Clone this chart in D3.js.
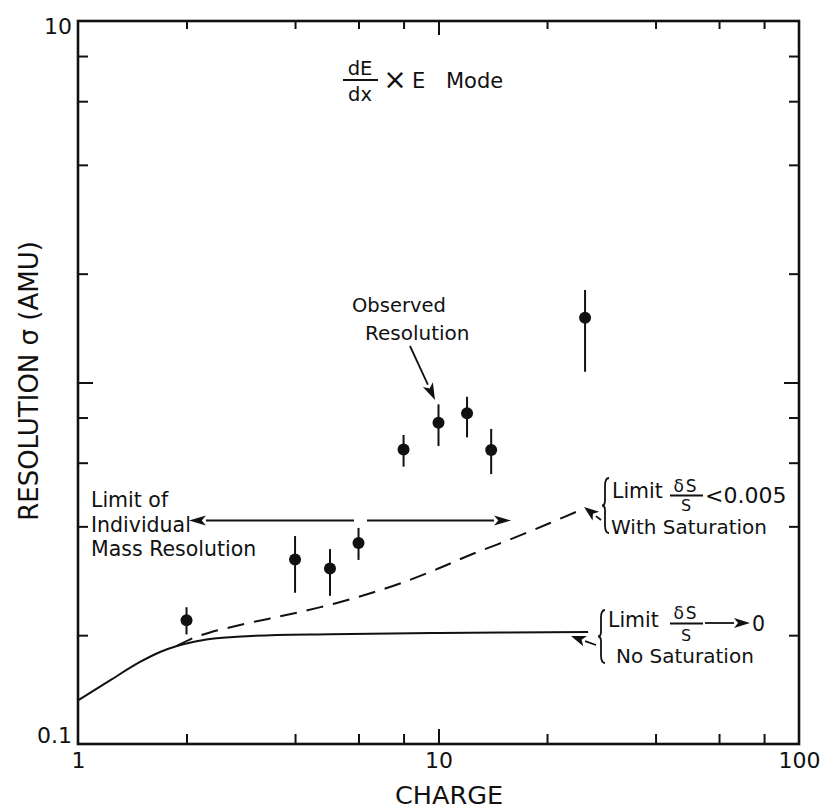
<!DOCTYPE html>
<html>
<head>
<meta charset="utf-8">
<script src="https://cdn.jsdelivr.net/npm/d3@7/dist/d3.min.js"></script>
<style>
  html, body { margin: 0; padding: 0; background: #fff; }
  svg text { font-family: "DejaVu Sans", sans-serif; fill: #111; }
</style>
</head>
<body>
<svg id="chart" width="823" height="810"></svg>
<script>
// Observed resolution per charge (sigma in AMU) with error bar limits
const charges   = [2, 4, 5, 6, 8, 10, 12, 14, 25.5];
const sigma     = [0.220, 0.324, 0.306, 0.360, 0.653, 0.774, 0.822, 0.651, 1.51];
const sigmaLow  = [0.201, 0.262, 0.257, 0.323, 0.585, 0.667, 0.705, 0.558, 1.071];
const sigmaHigh = [0.239, 0.376, 0.346, 0.396, 0.716, 0.870, 0.913, 0.744, 1.803];

// Calculated limit, dS/S -> 0, no saturation
const noSatCharge = [1, 1.227, 1.486, 1.689, 1.881, 2.084, 2.323, 2.76, 3.56, 5, 10, 26];
const noSatSigma  = [0.132, 0.150, 0.1686, 0.1797, 0.1867, 0.1915, 0.1953, 0.198, 0.2003, 0.2012, 0.2028, 0.2041];

// Calculated limit, dS/S < 0.005, with saturation
const satCharge = [1.881, 2.084, 2.323, 2.814, 3.409, 4.129, 5.163, 6.375, 7.87, 9.779, 12.23, 15.79, 20.39, 25.49];
const satSigma  = [0.1867, 0.1964, 0.2035, 0.2134, 0.2225, 0.2319, 0.2447, 0.2600, 0.2786, 0.3029, 0.3333, 0.3679, 0.4087, 0.4495];

// Axis ticks
const xMinorTicks = [2, 4, 6, 8, 20, 40, 60, 80];
const xMajorTicks = [10];
const yMinorTicks = [0.2, 0.4, 0.6, 0.8, 2, 4, 6, 8];
const yMajorTicks = [1];
const xTickLabels = [1, 10, 100];
const yTickLabels = [0.1, 10];

const svg = d3.select("#chart");
const plotL = 78, plotR = 799, plotT = 21, plotB = 744;

const x = d3.scaleLog().domain([1, 100]).range([plotL, plotR]);
const y = d3.scaleLog().domain([0.1, 10]).range([plotB, plotT]);

const ink = "#111";

// Inward ticks on all four sides
function tickAxis(axisFn, scale, values, size, transform) {
  const g = svg.append("g").attr("transform", transform)
    .call(axisFn(scale).tickValues(values).tickSize(size).tickFormat(""));
  g.select(".domain").remove();
  g.selectAll(".tick line").attr("stroke", ink).attr("stroke-width", 2);
  return g;
}
tickAxis(d3.axisBottom, x, xMinorTicks, -10, `translate(0,${plotB})`);
tickAxis(d3.axisBottom, x, xMajorTicks, -15, `translate(0,${plotB})`);
tickAxis(d3.axisTop, x, xMinorTicks, -8, `translate(0,${plotT})`);
tickAxis(d3.axisTop, x, xMajorTicks, -14, `translate(0,${plotT})`);
tickAxis(d3.axisLeft, y, yMinorTicks, -10, `translate(${plotL},0)`);
tickAxis(d3.axisLeft, y, yMajorTicks, -15, `translate(${plotL},0)`);
tickAxis(d3.axisRight, y, yMinorTicks, -10, `translate(${plotR},0)`);
tickAxis(d3.axisRight, y, yMajorTicks, -15, `translate(${plotR},0)`);

// Frame
svg.append("rect")
  .attr("x", plotL).attr("y", plotT)
  .attr("width", plotR - plotL).attr("height", plotB - plotT)
  .attr("fill", "none").attr("stroke", ink).attr("stroke-width", 2.6);

// Tick labels
const xLab = svg.append("g").attr("transform", `translate(0,${plotB})`)
  .call(d3.axisBottom(x).tickValues(xTickLabels).tickSize(0).tickPadding(8)
    .tickFormat(d3.format("d")));
xLab.select(".domain").remove();
xLab.selectAll("text").attr("font-size", 22).attr("fill", ink)
  .attr("font-family", "DejaVu Sans, sans-serif");

const yLab = svg.append("g").attr("transform", `translate(${plotL},0)`)
  .call(d3.axisLeft(y).tickValues(yTickLabels).tickSize(0).tickPadding(6)
    .tickFormat(d => d < 1 ? "0.1" : "10"));
yLab.select(".domain").remove();
yLab.selectAll("text").attr("font-size", 22).attr("fill", ink)
  .attr("font-family", "DejaVu Sans, sans-serif");
yLab.selectAll(".tick").filter(d => d < 1).select("text").attr("dy", "-0.05em");
yLab.selectAll(".tick").filter(d => d > 1).select("text").attr("dy", "0.55em");

// Axis titles
svg.append("text").attr("x", 449).attr("y", 804)
  .attr("text-anchor", "middle").attr("font-size", 25.5).text("CHARGE");
svg.append("text").attr("transform", "translate(38,381) rotate(-90)")
  .attr("text-anchor", "middle").attr("font-size", 26).text("RESOLUTION σ (AMU)");

// Calculated curves
const line = d3.line().x(d => x(d[0])).y(d => y(d[1])).curve(d3.curveCatmullRom.alpha(0.5));
svg.append("path")
  .datum(noSatCharge.map((c, i) => [c, noSatSigma[i]]))
  .attr("d", line).attr("fill", "none").attr("stroke", ink).attr("stroke-width", 2);
svg.append("path")
  .datum(satCharge.map((c, i) => [c, satSigma[i]]))
  .attr("d", line).attr("fill", "none").attr("stroke", ink).attr("stroke-width", 2)
  .attr("stroke-dasharray", "17,10");

// Observed points with error bars
const pts = charges.map((c, i) => ({ c, s: sigma[i], lo: sigmaLow[i], hi: sigmaHigh[i] }));
svg.append("g").selectAll("line").data(pts).join("line")
  .attr("x1", d => x(d.c)).attr("x2", d => x(d.c))
  .attr("y1", d => y(d.lo)).attr("y2", d => y(d.hi))
  .attr("stroke", ink).attr("stroke-width", 2);
svg.append("g").selectAll("circle").data(pts).join("circle")
  .attr("cx", d => x(d.c)).attr("cy", d => y(d.s)).attr("r", 6).attr("fill", ink);

// Annotation helpers
function arrow(x1, y1, x2, y2, len = 16, half = 5) {
  const a = Math.atan2(y2 - y1, x2 - x1);
  const bx = x2 - len * Math.cos(a), by = y2 - len * Math.sin(a);
  svg.append("line").attr("x1", x1).attr("y1", y1).attr("x2", bx).attr("y2", by)
    .attr("stroke", ink).attr("stroke-width", 1.8);
  const px = -Math.sin(a) * half, py = Math.cos(a) * half;
  svg.append("path")
    .attr("d", `M${x2},${y2}L${bx + px},${by + py}L${bx + len * 0.25 * Math.cos(a)},${by + len * 0.25 * Math.sin(a)}L${bx - px},${by - py}Z`)
    .attr("fill", ink);
}
function brace(xr, y0, y1) {
  const ym = (y0 + y1) / 2, w = 6;
  const xl = xr - w;
  svg.append("path")
    .attr("d", `M${xr},${y0} Q${xl + 2},${y0} ${xl + 2},${y0 + 8} L${xl + 2},${ym - 5} Q${xl + 2},${ym} ${xl - 1},${ym}` +
               ` Q${xl + 2},${ym} ${xl + 2},${ym + 5} L${xl + 2},${y1 - 8} Q${xl + 2},${y1} ${xr},${y1}`)
    .attr("fill", "none").attr("stroke", ink).attr("stroke-width", 1.8);
}
function text(tx, ty, str, size = 20, anchor = "start") {
  return svg.append("text").attr("x", tx).attr("y", ty).attr("font-size", size)
    .attr("text-anchor", anchor).text(str);
}

// Title: dE/dx x E Mode
text(360, 75, "dE", 19.5, "middle");
svg.append("line").attr("x1", 343).attr("x2", 378).attr("y1", 80).attr("y2", 80)
  .attr("stroke", ink).attr("stroke-width", 1.8);
text(360, 101, "dx", 19.5, "middle");
text(395, 89, "×", 28, "middle");
text(412, 88, "E", 21);
text(446, 88, "Mode", 21);

// Observed resolution label
text(352, 312, "Observed", 19.5);
text(365, 340, "Resolution", 20);
arrow(410, 346, 435, 400, 17, 5.5);

// Limit of individual mass resolution
text(91, 507, "Limit of", 20.5);
text(91, 532, "Individual", 20.5);
text(91, 556, "Mass Resolution", 20.5);
arrow(354, 520.5, 189, 520.5, 17, 5);
arrow(367, 520.5, 511, 520.5, 17, 5);

// With saturation limit
brace(609, 478, 533);
text(612, 498, "Limit", 20.5);
text(686, 492, "δS", 17, "middle").attr("letter-spacing", 2);
svg.append("line").attr("x1", 670).attr("x2", 703).attr("y1", 495.5).attr("y2", 495.5)
  .attr("stroke", ink).attr("stroke-width", 1.8);
text(686, 511, "S", 16, "middle");
text(705, 503, "<0.005", 22);
text(611, 534, "With Saturation", 20);
arrow(601, 520, 584, 507, 15, 5.5);

// No saturation limit
brace(605, 610, 663);
text(608, 627, "Limit", 20.5);
text(686, 619, "δS", 17, "middle").attr("letter-spacing", 2);
svg.append("line").attr("x1", 670).attr("x2", 703).attr("y1", 623.5).attr("y2", 623.5)
  .attr("stroke", ink).attr("stroke-width", 1.8);
text(686, 641, "S", 16, "middle");
arrow(705, 623, 750, 623, 16, 5);
text(752, 631, "0", 20.5);
text(616, 663, "No Saturation", 20);
arrow(596, 645, 571, 636, 15, 5.5);
</script>
</body>
</html>
